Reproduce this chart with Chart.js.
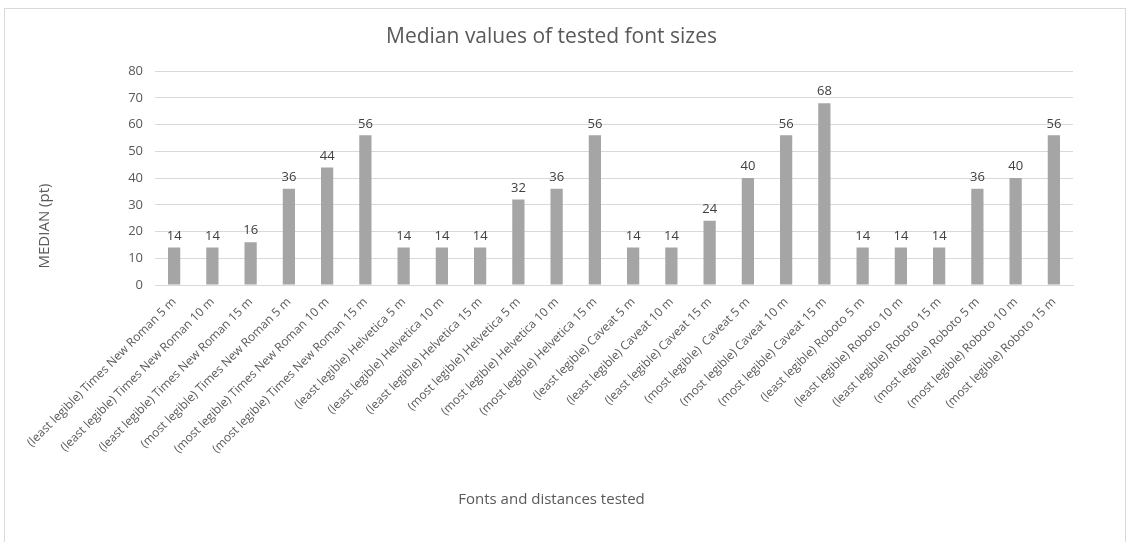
<!DOCTYPE html>
<html>
<head>
<meta charset="utf-8">
<script src="https://cdn.jsdelivr.net/npm/chart.js@4"></script>
<style>
  html, body { margin: 0; padding: 0; background: #fff; }
  #frame { position: absolute; left: 4px; top: 8px; width: 1120px; height: 540px; border: 1px solid #d9d9d9; }
  #wrap { position: absolute; left: 0; top: 0; width: 1129px; height: 542px; }
</style>
</head>
<body>
<div id="frame"></div>
<div id="wrap"><canvas id="chart"></canvas></div>
<script>
const xlabels = [
  '(least legible) Times New Roman 5 m', '(least legible) Times New Roman 10 m', '(least legible) Times New Roman 15 m',
  '(most legible) Times New Roman 5 m', '(most legible) Times New Roman 10 m', '(most legible) Times New Roman 15 m',
  '(least legible) Helvetica 5 m', '(least legible) Helvetica 10 m', '(least legible) Helvetica 15 m',
  '(most legible) Helvetica 5 m', '(most legible) Helvetica 10 m', '(most legible) Helvetica 15 m',
  '(least legible) Caveat 5 m', '(least legible) Caveat 10 m', '(least legible) Caveat 15 m',
  '(most legible)  Caveat 5 m', '(most legible) Caveat 10 m', '(most legible) Caveat 15 m',
  '(least legible) Roboto 5 m', '(least legible) Roboto 10 m', '(least legible) Roboto 15 m',
  '(most legible) Roboto 5 m', '(most legible) Roboto 10 m', '(most legible) Roboto 15 m'
]
const medians = [14, 14, 16, 36, 44, 56, 14, 14, 14, 32, 36, 56, 14, 14, 24, 40, 56, 68, 14, 14, 14, 36, 40, 56]
const yticks = [0, 10, 20, 30, 40, 50, 60, 70, 80]

const FONT = "'Open Sans', sans-serif"
const GREY = '#595959'

// value labels above each bar + y axis title
const extras = {
  id: 'extras',
  afterDatasetsDraw(chart) {
    const ctx = chart.ctx
    const meta = chart.getDatasetMeta(0)
    ctx.save()
    ctx.font = '13px ' + FONT
    ctx.fillStyle = '#404040'
    ctx.textAlign = 'center'
    ctx.textBaseline = 'bottom'
    meta.data.forEach((bar, i) => {
      ctx.fillText(chart.data.datasets[0].data[i], bar.x, bar.y - 5)
    })
    // axis title
    ctx.font = '15px ' + FONT
    ctx.fillStyle = GREY
    ctx.textBaseline = 'middle'
    ctx.translate(45, 226)
    ctx.rotate(-Math.PI / 2)
    ctx.fillText('MEDIAN (pt)', 0, 0)
    ctx.restore()
  }
}

const ctx = document.getElementById('chart').getContext('2d')
const myChart = new Chart(ctx, {
  type: 'bar',
  data: {
    labels: xlabels,
    datasets: [{
      label: 'MEDIAN (pt)',
      data: medians,
      backgroundColor: '#a5a5a5',
      barPercentage: 0.32,
      categoryPercentage: 1
    }]
  },
  options: {
    responsive: true,
    maintainAspectRatio: false,
    animation: false,
    layout: { padding: { left: 30, right: 56, top: 12, bottom: 30 } },
    plugins: {
      legend: { display: false },
      tooltip: { enabled: false },
      title: {
        display: true,
        text: 'Median values of tested font sizes',
        color: GREY,
        font: { family: FONT, size: 21, weight: 'normal' },
        padding: { top: 12, bottom: 22 }
      },
      subtitle: {
        display: true,
        position: 'bottom',
        text: 'Fonts and distances tested',
        color: GREY,
        font: { family: FONT, size: 15 },
        padding: { top: 0, bottom: 3 }
      }
    },
    scales: {
      x: {
        grid: { display: false },
        border: { display: true, color: '#d9d9d9' },
        ticks: {
          color: GREY,
          font: { family: FONT, size: 12 },
          maxRotation: 45,
          minRotation: 45,
          autoSkip: false,
          padding: 2
        },
        afterFit(scale) { scale.height = 206 }
      },
      y: {
        min: 0,
        max: 80,
        afterBuildTicks(scale) { scale.ticks = yticks.map(v => ({ value: v })) },
        grid: { color: '#d9d9d9', drawTicks: false },
        border: { display: false },
        ticks: {
          color: GREY,
          font: { family: FONT, size: 13 },
          padding: 12
        },
        afterFit(scale) { scale.width = 125 }
      }
    }
  },
  plugins: [extras]
})
</script>
</body>
</html>
